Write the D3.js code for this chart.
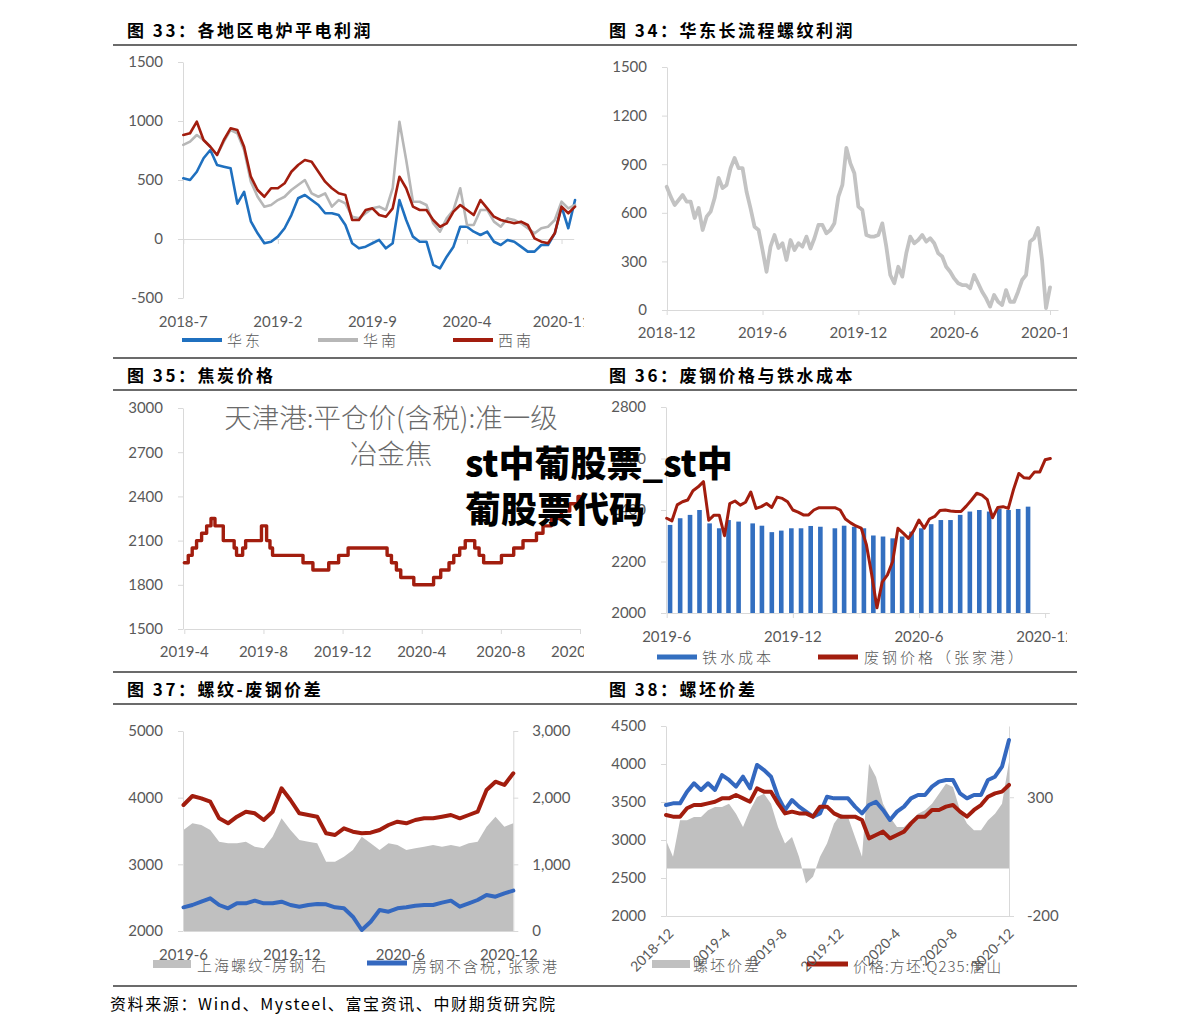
<!DOCTYPE html>
<html><head><meta charset="utf-8">
<script src="https://cdn.jsdelivr.net/npm/d3@7"></script>
<style>
body{margin:0;background:#fff;}
svg{display:block;}
</style></head><body>
<script>
// ---------------- DATA ----------------
// Fig 33 (half-month steps from 2018-7)
const f33TickLabels = ['2018-7','2019-2','2019-9','2020-4','2020-11'];
const f33TickMonths = [0,7,14,21,28];
const f33YTicks = [-500,0,500,1000,1500];
const f33Step = 0.5;
const f33Huadong = [514,500,570,684,754,627,613,599,300,400,150,48,-36,-23,20,91,203,345,373,330,288,218,218,203,119,-36,-79,-65,-36,-8,-79,-36,330,161,20,-23,-23,-220,-249,-150,-65,104,104,62,34,62,-23,-51,-8,-23,-65,-107,-107,-51,-51,48,274,91,330];
const f33Huanan = [797,825,881,839,782,712,825,924,896,754,486,358,274,288,330,358,415,458,500,387,358,387,274,330,302,189,175,218,260,274,246,430,994,669,316,316,288,133,62,175,246,430,119,119,246,246,147,104,175,161,133,91,48,91,104,161,316,260,288];
const f33Xinan = [881,896,994,839,782,712,839,938,924,782,528,415,358,430,430,472,570,627,669,655,570,486,430,387,373,161,161,246,260,203,189,260,528,430,274,246,246,161,104,133,232,288,246,203,330,260,189,161,147,133,147,119,6,-23,-36,48,274,218,274];
const f33Legend = ['华东','华南','西南'];

// Fig 34 (quarter-month steps from 2018-12)
const f34TickLabels = ['2018-12','2019-6','2019-12','2020-6','2020-12'];
const f34TickMonths = [0,6,12,18,24];
const f34YTicks = [0,300,600,900,1200,1500];
const f34Step = 0.25;
const f34Profit = [761,700,648,679,710,669,669,568,630,494,576,607,691,815,753,772,876,938,876,876,730,627,514,494,370,236,391,463,383,412,309,432,370,412,391,453,380,443,525,525,473,494,535,700,772,1000,905,844,638,617,463,453,453,463,535,391,216,165,267,206,350,453,412,432,463,422,443,412,350,330,267,236,195,165,154,154,134,216,165,113,72,21,93,51,31,123,51,51,113,185,216,422,443,506,309,12,140];

// Fig 35 (step series; months since 2019-4)
const f35TickLabels = ['2019-4','2019-8','2019-12','2020-4','2020-8','2020-12'];
const f35TickMonths = [0,4,8,12,16,20];
const f35YTicks = [1500,1800,2100,2400,2700,3000];
const f35Months = [0,0.2,0.4,0.62,0.875,1.13,1.35,1.55,1.97,2.52,2.64,2.95,3.1,3.9,4.16,4.33,4.46,6.0,6.5,7.3,7.8,8.28,10.25,10.47,10.72,10.94,11.6,12.6,12.96,13.38,13.62,13.92,14.2,14.68,14.9,15.13,16.03,16.65,17.12,17.8,18.13,18.55,19.06,19.48,19.9,20.0];
const f35Price = [1950,2000,2050,2100,2150,2200,2250,2200,2100,2050,2000,2050,2100,2200,2100,2050,2000,1950,1900,1950,2000,2050,2000,1950,1900,1850,1800,1850,1900,1950,2000,2050,2100,2050,2000,1950,2000,2050,2100,2150,2200,2250,2300,2350,2400,2400];
const f35Note = ['天津港:平仓价(含税):准一级','冶金焦'];

// Fig 36 (months since 2019-6)
const f36TickLabels = ['2019-6','2019-12','2020-6','2020-12'];
const f36TickMonths = [0,6,12,18];
const f36YTicks = [2000,2200,2400,2600,2800];
const f36BarMonths = [0.16,0.64,1.11,1.56,2.04,2.5,2.94,3.42,4.09,4.53,5.0,5.45,5.93,6.39,6.85,7.31,8.0,8.44,8.92,9.38,9.83,10.29,10.75,11.2,11.65,12.11,12.58,13.04,13.5,13.96,14.42,14.87,15.34,15.82,16.26,16.72,17.19];
const f36IronCost = [2342,2368,2381,2400,2348,2329,2361,2355,2348,2339,2314,2320,2329,2329,2338,2335,2329,2339,2335,2329,2301,2297,2290,2297,2316,2329,2345,2361,2361,2381,2394,2400,2394,2404,2400,2404,2413];
const f36Step = 0.25;
const f36Scrap = [2368,2358,2420,2432,2439,2475,2490,2510,2360,2380,2380,2300,2425,2435,2419,2430,2470,2406,2413,2425,2410,2450,2445,2432,2400,2392,2381,2381,2400,2409,2409,2409,2409,2400,2365,2350,2338,2330,2265,2150,2020,2120,2148,2200,2329,2310,2290,2320,2361,2329,2365,2375,2398,2400,2396,2394,2394,2415,2439,2465,2458,2440,2370,2410,2413,2406,2480,2542,2525,2523,2548,2548,2595,2600];
const f36Legend = ['铁水成本','废钢价格（张家港）'];

// Fig 37 (months since 2019-6)
const f37TickLabels = ['2019-6','2019-12','2020-6','2020-12'];
const f37TickMonths = [0,6,12,18];
const f37YTicks = [2000,3000,4000,5000];
const f37Y2Ticks = [0,1000,2000,3000];
const f37Step = 18.25/37;
const f37Spread = [1515,1615,1590,1515,1340,1315,1315,1340,1265,1240,1415,1690,1515,1365,1340,1315,1040,1040,1115,1215,1415,1315,1215,1315,1290,1215,1240,1265,1290,1265,1290,1265,1315,1340,1565,1715,1565,1615];
const f37Rebar = [3890,4025,3990,3940,3690,3615,3715,3790,3765,3665,3790,4140,3965,3765,3740,3715,3465,3440,3540,3490,3465,3475,3515,3590,3640,3615,3665,3690,3690,3715,3740,3690,3740,3790,4115,4240,4190,4365];
const f37Scrap = [2355,2390,2440,2490,2390,2340,2415,2415,2455,2415,2415,2440,2390,2365,2390,2405,2400,2355,2340,2215,2015,2140,2315,2290,2340,2355,2380,2390,2390,2425,2455,2365,2415,2465,2540,2515,2565,2605];
const f37Legend = ['上海螺纹-房钢  右','房钢不含税, 张家港'];

// Fig 38 (months since 2018-12)
const f38TickLabels = ['2018-12','2019-4','2019-8','2019-12','2020-4','2020-8','2020-12'];
const f38TickMonths = [0,4,8,12,16,20,24];
const f38YTicks = [2000,2500,3000,3500,4000,4500];
const f38Y2Ticks = [-200,300];
const f38Step = 24.2/49;
const f38Spread = [119,49,203,203,217,217,245,259,259,273,231,175,245,301,315,273,175,105,133,49,-63,-35,49,105,189,231,217,133,49,441,385,273,217,175,175,203,231,245,273,315,357,343,245,189,161,161,203,231,273,450];
const f38Rebar = [3460,3482,3482,3636,3746,3658,3746,3658,3855,3790,3702,3833,3680,3987,3921,3833,3570,3395,3526,3439,3373,3307,3350,3570,3548,3548,3548,3439,3350,3460,3504,3395,3263,3373,3439,3548,3592,3592,3702,3768,3790,3790,3614,3548,3592,3592,3790,3833,3965,4316];
const f38Billet = [3329,3307,3307,3417,3460,3460,3482,3504,3548,3548,3592,3548,3504,3680,3636,3636,3482,3350,3373,3350,3350,3307,3439,3439,3350,3307,3307,3307,3263,3022,3066,3110,3022,3066,3110,3219,3307,3307,3395,3395,3439,3460,3373,3307,3395,3460,3570,3614,3636,3724];
const f38Legend = ['螺坯价差','价格:方坯:Q235:唐山'];

const titles = ['图 33：各地区电炉平电利润','图 34：华东长流程螺纹利润','图 35：焦炭价格','图 36：废钢价格与铁水成本','图 37：螺纹-废钢价差','图 38：螺坯价差'];
const sourceText = '资料来源：Wind、Mysteel、富宝资讯、中财期货研究院';
const watermark = ['st中葡股票_st中','葡股票代码'];

// ---------------- DRAW ----------------
const FN = "Lato, 'Liberation Sans', sans-serif";
const FC = "'Noto Sans CJK SC', 'Noto Sans', sans-serif";
const AX = '#d9d9d9', LBL = '#595959';
const RED = '#a21d0e', BLUE = '#1f70bf', GRAY = '#b7b7b7', BLUE2 = '#3468bf', AREA = '#c0c0c0';
const plain = d => String(d);

const svg = d3.select('body').append('svg').attr('width',1191).attr('height',1035);
svg.append('rect').attr('width',1191).attr('height',1035).attr('fill','#fff');
const defs = svg.append('defs');
defs.append('clipPath').attr('id','clipL').append('rect').attr('x',95).attr('y',0).attr('width',489).attr('height',1035);
defs.append('clipPath').attr('id','clipR').append('rect').attr('x',590).attr('y',0).attr('width',477).attr('height',1035);
const gL = svg.append('g').attr('clip-path','url(#clipL)');
const gR = svg.append('g').attr('clip-path','url(#clipR)');

// rules
[45,358,390,672,704,986].forEach(y=>{
  svg.append('line').attr('x1',113).attr('x2',1077).attr('y1',y).attr('y2',y).attr('stroke','#3a3a3a').attr('stroke-width',1.3);
});
// titles
const titlePos = [[127,37],[609,37],[127,382],[609,382],[127,696],[609,696]];
titles.forEach((t,i)=>{
  svg.append('text').attr('x',titlePos[i][0]).attr('y',titlePos[i][1]).text(t)
    .attr('font-family',FC).attr('font-weight','bold').attr('font-size',17).attr('letter-spacing','2.5px').attr('fill','#000');
});
svg.append('text').attr('x',110).attr('y',1010).text(sourceText).attr('font-family',FC).attr('font-size',16).attr('letter-spacing','1.6px').attr('fill','#000');

function leftAxis(g, y, x0, ticks, fmt){
  const a = g.append('g').attr('transform',`translate(${x0},0)`)
    .call(d3.axisLeft(y).tickValues(ticks).tickSize(5).tickSizeOuter(0).tickPadding(15).tickFormat(fmt||plain));
  a.attr('font-family',FN).attr('font-size',15);
  a.select('.domain').attr('stroke',AX);
  a.selectAll('.tick line').attr('stroke',AX);
  a.selectAll('.tick text').attr('fill',LBL);
}
function rightAxis(g, y, x0, ticks, fmt, pad){
  const a = g.append('g').attr('transform',`translate(${x0},0)`)
    .call(d3.axisRight(y).tickValues(ticks).tickSize(5).tickSizeOuter(0).tickPadding(pad).tickFormat(fmt));
  a.attr('font-family',FN).attr('font-size',15);
  a.select('.domain').attr('stroke',AX);
  a.selectAll('.tick line').attr('stroke',AX);
  a.selectAll('.tick text').attr('fill',LBL);
}
function xBase(g, x, yPos, ticks, withTicks){
  const a = g.append('g').attr('transform',`translate(0,${yPos})`)
    .call(d3.axisBottom(x).tickValues(ticks).tickSize(withTicks?5:0).tickSizeOuter(0).tickFormat(''));
  a.select('.domain').attr('stroke',AX);
  a.selectAll('.tick line').attr('stroke',AX);
}
function xLabels(g, x, ticks, labels, yb){
  g.append('g').selectAll('text').data(ticks).join('text')
    .attr('x',d=>x(d)).attr('y',yb).attr('text-anchor','middle')
    .attr('font-family',FN).attr('font-size',15).attr('fill',LBL)
    .text((d,i)=>labels[i]);
}
function series(vals, step){ return vals.map((v,i)=>({t:i*step, v})); }
function drawLine(g, x, y, pts, color, w, curve){
  g.append('path').datum(pts).attr('fill','none').attr('stroke',color).attr('stroke-width',w)
    .attr('stroke-linejoin','round').attr('stroke-linecap','round')
    .attr('d', d3.line().x(d=>x(d.t)).y(d=>y(d.v)).curve(curve||d3.curveLinear));
}
function legendLine(g, x1, y, color, w, label, tx){
  g.append('line').attr('x1',x1).attr('x2',x1+40).attr('y1',y).attr('y2',y).attr('stroke',color).attr('stroke-width',w);
  g.append('text').attr('x',tx).attr('y',y+6).text(label).attr('font-family',FC).attr('font-weight',300)
    .attr('font-size',15).attr('letter-spacing','3px').attr('fill',LBL);
}
function legendRect(g, x1, y, color, label, tx){
  g.append('rect').attr('x',x1).attr('y',y-4).attr('width',38).attr('height',8).attr('fill',color);
  g.append('text').attr('x',tx).attr('y',y+7).text(label).attr('font-family',FC).attr('font-weight',300)
    .attr('font-size',15).attr('letter-spacing','2px').attr('fill',LBL);
}

// ---- Fig 33 ----
{
  const g = gL;
  const x = d3.scaleLinear().domain([0,28.9]).range([183.3,573.7]);
  const y = d3.scaleLinear().domain([-500,1500]).range([298,62]);
  leftAxis(g, y, 183, f33YTicks);
  xBase(g, x, y(0), f33TickMonths, true);
  xLabels(g, x, f33TickMonths, f33TickLabels, 327);
  drawLine(g, x, y, series(f33Huadong,f33Step), BLUE, 2.6);
  drawLine(g, x, y, series(f33Huanan,f33Step), GRAY, 2.6);
  drawLine(g, x, y, series(f33Xinan,f33Step), RED, 2.6);
  legendLine(g, 182, 340, BLUE, 4, f33Legend[0], 227);
  legendLine(g, 318, 340, GRAY, 4, f33Legend[1], 363);
  legendLine(g, 453, 340, RED, 4, f33Legend[2], 498);
}
// ---- Fig 34 ----
{
  const g = gR;
  const x = d3.scaleLinear().domain([0,24.5]).range([666.7,1058]);
  const y = d3.scaleLinear().domain([0,1500]).range([310,67]);
  leftAxis(g, y, 667, f34YTicks);
  xBase(g, x, y(0), f34TickMonths, true);
  xLabels(g, x, f34TickMonths, f34TickLabels, 338);
  drawLine(g, x, y, series(f34Profit,f34Step), '#c3c3c3', 3.8);
}
// ---- Fig 35 ----
{
  const g = gL;
  const x = d3.scaleLinear().domain([0,20]).range([184.3,580]);
  const y = d3.scaleLinear().domain([1500,3000]).range([629,408]);
  leftAxis(g, y, 183, f35YTicks);
  xBase(g, x, y(1500), f35TickMonths, true);
  xLabels(g, x, f35TickMonths, f35TickLabels, 657);
  const pts = f35Months.map((t,i)=>({t, v:f35Price[i]}));
  drawLine(g, x, y, pts, RED, 3.4, d3.curveStepAfter);
  g.append('text').attr('x',391).attr('y',428).attr('text-anchor','middle').text(f35Note[0])
    .attr('font-family',FC).attr('font-weight',300).attr('font-size',27.5).attr('fill','#6a6a6a');
  g.append('text').attr('x',391).attr('y',464).attr('text-anchor','middle').text(f35Note[1])
    .attr('font-family',FC).attr('font-weight',300).attr('font-size',27.5).attr('fill','#6a6a6a');
}
// ---- Fig 36 ----
{
  const g = gR;
  const x = d3.scaleLinear().domain([0,18.2]).range([666.7,1049.3]);
  const y = d3.scaleLinear().domain([2000,2800]).range([613,407]);
  leftAxis(g, y, 666, f36YTicks);
  g.append('g').selectAll('rect').data(f36BarMonths).join('rect')
    .attr('x',d=>x(d)-2.3).attr('width',4.6)
    .attr('y',(d,i)=>y(f36IronCost[i])).attr('height',(d,i)=>y(2000)-y(f36IronCost[i]))
    .attr('fill','#336fc0');
  xBase(g, x, y(2000), f36TickMonths, true);
  xLabels(g, x, f36TickMonths, f36TickLabels, 642);
  drawLine(g, x, y, series(f36Scrap,f36Step), RED, 3);
  legendLine(g, 657, 657, '#336fc0', 5, f36Legend[0], 702);
  legendLine(g, 818, 657, RED, 5, f36Legend[1], 864);
}
// ---- Fig 37 ----
{
  const g = gL;
  const x = d3.scaleLinear().domain([0,18.25]).range([183.5,513.3]);
  const y = d3.scaleLinear().domain([2000,5000]).range([931,731]);
  const y2 = d3.scaleLinear().domain([0,3000]).range([931,731]);
  const sp = series(f37Spread,f37Step);
  g.append('path').datum(sp).attr('fill',AREA)
    .attr('d', d3.area().x(d=>x(d.t)).y0(y2(0)).y1(d=>y2(d.v)));
  leftAxis(g, y, 183, f37YTicks);
  rightAxis(g, y2, 513.3, f37Y2Ticks, d3.format(','), 14);
  xBase(g, x, y(2000), [], false);
  drawLine(g, x, y, series(f37Rebar,f37Step), RED, 4);
  drawLine(g, x, y, series(f37Scrap,f37Step), BLUE2, 4);
  legendRect(g, 153, 964, AREA, f37Legend[0], 197);
  g.append('line').attr('x1',367).attr('x2',407).attr('y1',963).attr('y2',963).attr('stroke',BLUE2).attr('stroke-width',5);
  g.append('text').attr('x',412).attr('y',972).text(f37Legend[1]).attr('font-family',FC).attr('font-weight',300)
    .attr('font-size',15).attr('letter-spacing','2px').attr('fill',LBL);
  xLabels(g, x, f37TickMonths, f37TickLabels, 960);
}
// ---- Fig 38 ----
{
  const g = gR;
  const x = d3.scaleLinear().domain([0,24.2]).range([666,1009]);
  const y = d3.scaleLinear().domain([2000,4500]).range([916,726]);
  const y2 = d3.scaleLinear().domain([-200,600]).range([916,726]);
  const sp = series(f38Spread,f38Step);
  g.append('path').datum(sp).attr('fill',AREA)
    .attr('d', d3.area().x(d=>x(d.t)).y0(y2(0)).y1(d=>y2(d.v)));
  leftAxis(g, y, 666, f38YTicks);
  rightAxis(g, y2, 1009, f38Y2Ticks, plain, 13);
  xBase(g, x, y(2000), [], false);
  drawLine(g, x, y, series(f38Rebar,f38Step), BLUE2, 4);
  drawLine(g, x, y, series(f38Billet,f38Step), RED, 4);
  legendRect(g, 652, 964, AREA, f38Legend[0], 693);
  g.append('line').attr('x1',807).attr('x2',848).attr('y1',964).attr('y2',964).attr('stroke',RED).attr('stroke-width',5);
  g.append('text').attr('x',853).attr('y',972).text(f38Legend[1]).attr('font-family',FC).attr('font-weight',300)
    .attr('font-size',15).attr('letter-spacing','1px').attr('fill',LBL);
  g.append('g').selectAll('text').data(f38TickMonths).join('text')
    .attr('transform',d=>`translate(${x(d)+5},${931}) rotate(-45)`)
    .attr('text-anchor','end').attr('dy','0.35em')
    .attr('font-family',FN).attr('font-size',14).attr('fill',LBL)
    .text((d,i)=>f38TickLabels[i]);
}
// watermark
watermark.forEach((t,i)=>{
  svg.append('text').attr('x',465).attr('y',[477,523][i]).text(t)
    .attr('font-family',FC).attr('font-weight',900).attr('font-size',36).attr('fill','#000');
});
</script></body></html>
